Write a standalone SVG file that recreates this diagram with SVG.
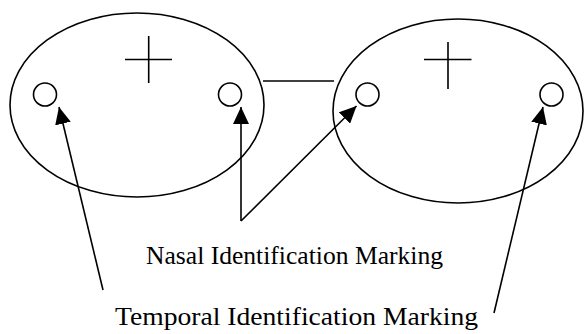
<svg xmlns="http://www.w3.org/2000/svg" width="585" height="334" viewBox="0 0 585 334">
<style>
.s{fill:none;stroke:#000;stroke-width:1.6}
.t{font-family:"Liberation Serif","Times New Roman",serif;font-size:25px;fill:#000}
</style>
<defs>
<marker id="ah" markerUnits="userSpaceOnUse" markerWidth="18" markerHeight="16" viewBox="0 0 18 16" refX="17" refY="8" orient="auto">
<path d="M0,0 L17,8 L0,16 Z" fill="#000"/>
</marker>
</defs>
<rect width="585" height="334" fill="#fff"/>
<g id="left-eye">
<ellipse class="s" cx="137" cy="105" rx="127" ry="92"/>
<path class="s" d="M125,59.5 H172 M148.7,36 V83"/>
<circle class="s" cx="45" cy="94.5" r="11.5"/>
<circle class="s" cx="230" cy="94.5" r="11.5"/>
</g>
<g id="right-eye">
<ellipse class="s" cx="458" cy="111" rx="125" ry="92"/>
<path class="s" d="M424,59.5 H471.5 M448,42 V89"/>
<circle class="s" cx="367.5" cy="94.5" r="11.5"/>
<circle class="s" cx="551.5" cy="94.5" r="11.5"/>
</g>
<g id="connectors">
<line class="s" x1="263" y1="81" x2="334" y2="81"/>
<line class="s" x1="103" y1="290" x2="59" y2="107" marker-end="url(#ah)"/>
<line class="s" x1="494" y1="313" x2="543" y2="107" marker-end="url(#ah)"/>
<line class="s" x1="241" y1="221" x2="241" y2="107" marker-end="url(#ah)"/>
<line class="s" x1="241" y1="221" x2="356.5" y2="106" marker-end="url(#ah)"/>
</g>
<g id="labels">
<text class="t" x="146" y="264" textLength="297" lengthAdjust="spacingAndGlyphs">Nasal Identification Marking</text>
<text class="t" x="115" y="325" textLength="363" lengthAdjust="spacingAndGlyphs">Temporal Identification Marking</text>
</g>
</svg>
